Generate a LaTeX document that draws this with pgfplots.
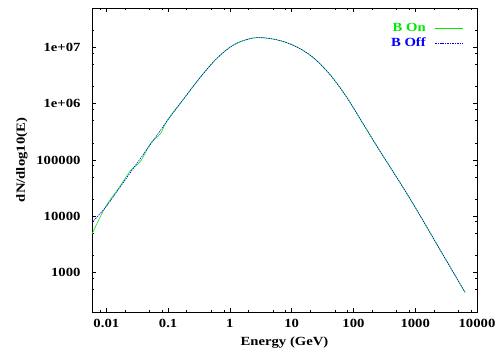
\documentclass[border=0pt]{standalone}
\usepackage{pgfplots}
\pgfplotsset{compat=1.18}
\usepackage{fontspec}
\setmainfont{Liberation Serif}[FakeStretch=1.18]
\definecolor{bgreen}{RGB}{0,235,0}
\definecolor{bblue}{RGB}{0,0,255}
\begin{document}
\begin{tikzpicture}
\path[use as bounding box] (-92bp,-38bp) rectangle (408bp,312bp);
\begin{axis}[
  at={(0,0)}, anchor=south west,
  scale only axis, width=385bp, height=304bp,
  xmode=log, ymode=log,
  xmin=0.00586, xmax=10000, ymin=200, ymax=5e7,
  font=\fontsize{12.5}{14}\selectfont\bfseries,
  /pgf/number format/assume math mode=true,
  xtick={0.01,0.1,1,10,100,1000,10000},
  xticklabels={0.01,0.1,1,10,100,1000,10000},
  ytick={1000,10000,100000,1000000,10000000},
  yticklabels={1000,10000,100000,1e+06,1e+07},
  minor xtick={0.008,0.02,0.05,0.08,0.2,0.5,0.8,2,5,8,20,50,80,200,500,800,2000,5000,8000},
  minor ytick={500,800,2000,5000,8000,20000,50000,80000,200000,500000,800000,2000000,5000000,8000000,20000000},
  tick align=inside, major tick length=4.5bp, minor tick length=2.5bp,
  tick style={black, line width=0.6pt},
  axis line style={line width=0.8pt},
  xlabel={Energy (GeV)}, ylabel={dN/dlog10(E)},
  xlabel style={at={(axis description cs:0.5,0)}, anchor=base, yshift=-34bp},
  ylabel style={at={(axis description cs:-0.182,0.5)}, anchor=center},
  xticklabel style={yshift=-4bp},
  yticklabel style={xshift=-8bp},
  legend style={at={(axis description cs:0.965,0.954)}, anchor=north east, draw=none, fill=none, inner sep=0pt, row sep=3bp, column sep=9bp, nodes={inner sep=0pt, text height=9bp, text depth=3bp}},
  legend plot pos=right, legend cell align=right,
  legend image code/.code={\draw[#1] (0bp,0bp) -- (28bp,0bp);},
]
\addplot[bgreen, line width=0.6pt, smooth, tension=0.55] coordinates {
(0.00586,4870) (0.00975,14860) (0.0158,31500) (0.0247,65000) (0.0357,95000)
(0.0518,195000) (0.0752,294000) (0.0964,501000) (0.179,1220000) (0.332,2940000) (0.617,6400000)
(1.14,11000000) (2.12,14300000) (3.48,14800000) (6.47,13200000) (12.05,10200000)
(22.3,6600000) (41.5,3310000) (77.1,1320000) (143,442000) (265,147000)
(340,96000) (861,19000) (2470,2650) (6400,447)
};
\addlegendentry[text=bgreen]{B On}
\addplot[bblue, line width=0.6pt, dash pattern=on 1.5pt off 1pt, smooth, tension=0.55] coordinates {
(0.00586,7810) (0.00975,14500) (0.0158,30400) (0.0247,60600) (0.0357,107000)
(0.0518,190000) (0.0752,336000) (0.0964,495000) (0.179,1220000) (0.332,2940000) (0.617,6400000)
(1.14,11000000) (2.12,14300000) (3.48,14800000) (6.47,13200000) (12.05,10200000)
(22.3,6600000) (41.5,3310000) (77.1,1320000) (143,442000) (265,147000)
(340,96000) (861,19000) (2470,2650) (6400,447)
};
\addlegendentry[text=bblue]{B Off}
\end{axis}
\end{tikzpicture}
\end{document}
